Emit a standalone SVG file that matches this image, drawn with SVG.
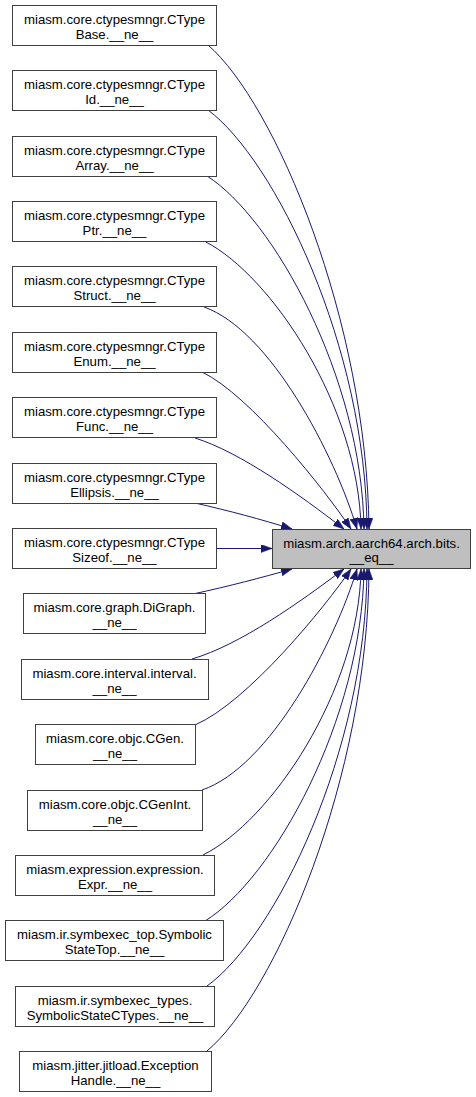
<svg xmlns="http://www.w3.org/2000/svg" width="476" height="1097" viewBox="0 0 476 1097">
<style>
.n rect{fill:#ffffff;stroke:#404040;stroke-width:1}
.t rect{fill:#bfbfbf;stroke:#404040;stroke-width:1}
text{font-family:"Liberation Sans",Arial,Helvetica,sans-serif;font-size:13.2px;fill:#000000;text-anchor:middle}
.e path{fill:none;stroke:#191970;stroke-width:1;marker-end:url(#ah)}
</style>
<defs>
<marker id="ah" viewBox="0 0 11 8" markerUnits="userSpaceOnUse" markerWidth="11" markerHeight="8" refX="11" refY="4" orient="auto">
<path d="M0,0 L11,4 L0,8 z" fill="#191970" stroke="#191970" stroke-width="0.5"/>
</marker>
</defs>
<g class="e" id="edges">
<path d="M208,45 C275,103 367,321 369,529"/>
<path d="M208,110 C275,160 366,347 367,529"/>
<path d="M207,176 C273,218 362,377 364,529"/>
<path d="M206,242 C271,276 359,406 361,529"/>
<path d="M204,307 C270,330 335,455 357,529"/>
<path d="M202,372 C250,395 325,490 351,529"/>
<path d="M195,438 C240,452 300,495 344,529"/>
<path d="M195,503 C230,511 260,519 292,529"/>
<path d="M216,548.5 L272,548.5"/>
<path d="M193,594 C230,586 260,578 292,569"/>
<path d="M192,659 C240,645 300,602 344,569"/>
<path d="M195,725 C248,702 325,607 351,569"/>
<path d="M202,790 C270,767 335,642 357,569"/>
<path d="M203,855 C271,821 359,691 361,569"/>
<path d="M205,921 C273,879 362,720 364,569"/>
<path d="M207,986 C275,937 366,752 367,569"/>
<path d="M207,1051 C275,994 368,777 369,569"/>
</g>
<g class="t" id="target">
<rect x="272.5" y="529.5" width="198" height="39"/>
<text x="371.5" y="547.5">miasm.arch.aarch64.arch.bits.</text>
<text x="371.5" y="562">__eq__</text>
</g>
<g class="n" id="n1"><rect x="12.5" y="5.5" width="204" height="40"/><text x="114.5" y="24">miasm.core.ctypesmngr.CType</text><text x="114.5" y="38.5">Base.__ne__</text></g>
<g class="n" id="n2"><rect x="12.5" y="70.5" width="204" height="40"/><text x="114.5" y="89">miasm.core.ctypesmngr.CType</text><text x="114.5" y="103.5">Id.__ne__</text></g>
<g class="n" id="n3"><rect x="12.5" y="136.5" width="204" height="40"/><text x="114.5" y="155">miasm.core.ctypesmngr.CType</text><text x="114.5" y="169.5">Array.__ne__</text></g>
<g class="n" id="n4"><rect x="12.5" y="201.5" width="204" height="40"/><text x="114.5" y="220">miasm.core.ctypesmngr.CType</text><text x="114.5" y="234.5">Ptr.__ne__</text></g>
<g class="n" id="n5"><rect x="12.5" y="266.5" width="204" height="40"/><text x="114.5" y="285">miasm.core.ctypesmngr.CType</text><text x="114.5" y="299.5">Struct.__ne__</text></g>
<g class="n" id="n6"><rect x="12.5" y="332.5" width="204" height="40"/><text x="114.5" y="351">miasm.core.ctypesmngr.CType</text><text x="114.5" y="365.5">Enum.__ne__</text></g>
<g class="n" id="n7"><rect x="12.5" y="397.5" width="204" height="40"/><text x="114.5" y="416">miasm.core.ctypesmngr.CType</text><text x="114.5" y="430.5">Func.__ne__</text></g>
<g class="n" id="n8"><rect x="12.5" y="463.5" width="204" height="40"/><text x="114.5" y="482">miasm.core.ctypesmngr.CType</text><text x="114.5" y="496.5">Ellipsis.__ne__</text></g>
<g class="n" id="n9"><rect x="12.5" y="528.5" width="204" height="40"/><text x="114.5" y="547">miasm.core.ctypesmngr.CType</text><text x="114.5" y="561.5">Sizeof.__ne__</text></g>
<g class="n" id="n10"><rect x="23.5" y="593.5" width="182" height="40"/><text x="114.5" y="612">miasm.core.graph.DiGraph.</text><text x="114.5" y="626.5">__ne__</text></g>
<g class="n" id="n11"><rect x="21.5" y="659.5" width="187" height="40"/><text x="114.5" y="678">miasm.core.interval.interval.</text><text x="114.5" y="692.5">__ne__</text></g>
<g class="n" id="n12"><rect x="35.5" y="724.5" width="160" height="40"/><text x="115" y="743">miasm.core.objc.CGen.</text><text x="115" y="757.5">__ne__</text></g>
<g class="n" id="n13"><rect x="27.5" y="790.5" width="175" height="40"/><text x="115" y="809">miasm.core.objc.CGenInt.</text><text x="115" y="823.5">__ne__</text></g>
<g class="n" id="n14"><rect x="15.5" y="855.5" width="199" height="40"/><text x="115" y="874">miasm.expression.expression.</text><text x="115" y="888.5">Expr.__ne__</text></g>
<g class="n" id="n15"><rect x="5.5" y="920.5" width="218" height="40"/><text x="114.5" y="939">miasm.ir.symbexec_top.Symbolic</text><text x="114.5" y="953.5">StateTop.__ne__</text></g>
<g class="n" id="n16"><rect x="15.5" y="986.5" width="199" height="40"/><text x="115" y="1005">miasm.ir.symbexec_types.</text><text x="115" y="1019.5">SymbolicStateCTypes.__ne__</text></g>
<g class="n" id="n17"><rect x="19.5" y="1051.5" width="192" height="40"/><text x="115.5" y="1070">miasm.jitter.jitload.Exception</text><text x="115.5" y="1084.5">Handle.__ne__</text></g>
</svg>
